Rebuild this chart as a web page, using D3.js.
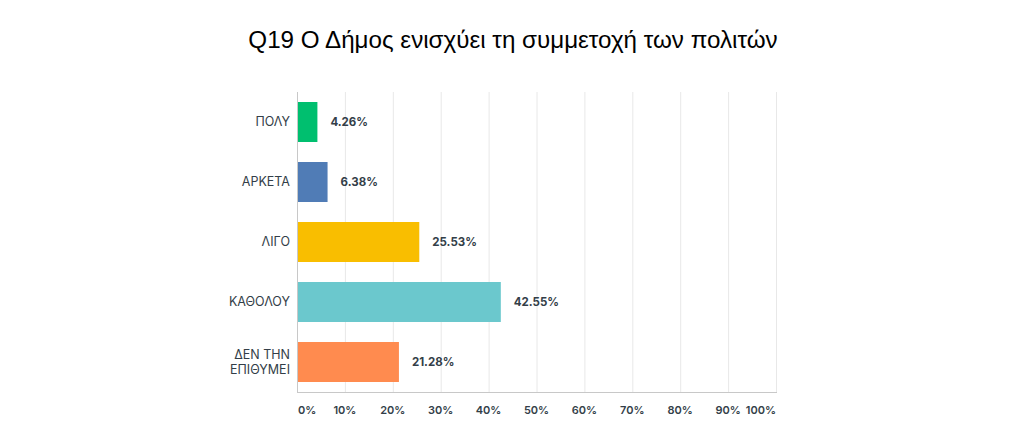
<!DOCTYPE html>
<html>
<head>
<meta charset="utf-8">
<script src="https://cdn.jsdelivr.net/npm/d3@7"></script>
<style>
  body { margin: 0; background: #fff; }
  svg { display: block; }
</style>
</head>
<body>
<div id="chart"></div>
<script>
// Q19 survey bar chart

const categories = ['ΠΟΛΥ', 'ΑΡΚΕΤΑ', 'ΛΙΓΟ', 'ΚΑΘΟΛΟΥ', 'ΔΕΝ ΤΗΝ ΕΠΙΘΥΜΕΙ'];
const labelLines = [['ΠΟΛΥ'], ['ΑΡΚΕΤΑ'], ['ΛΙΓΟ'], ['ΚΑΘΟΛΟΥ'], ['ΔΕΝ ΤΗΝ', 'ΕΠΙΘΥΜΕΙ']];
const values = [4.26, 6.38, 25.53, 42.55, 21.28];
const colors = ['#00bf6f', '#507cb6', '#f9be00', '#6bc8cd', '#ff8b4f'];
const ticks = [0, 10, 20, 30, 40, 50, 60, 70, 80, 90, 100];

const config = {
    width: 1024,
    height: 445,
    left: 297,
    right: 776,
    top: 92,
    bottom: 392
};

const svg = d3.select('#chart')
    .append('svg')
    .attr('width', config.width)
    .attr('height', config.height);

// Title
svg.append('text')
    .attr('x', 513)
    .attr('y', 48)
    .attr('text-anchor', 'middle')
    .attr('font-family', '"Liberation Sans", Arial, sans-serif')
    .attr('font-size', 24.2)
    .attr('fill', '#000')
    .text('Q19 Ο Δήμος ενισχύει τη συμμετοχή των πολιτών');

const x = d3.scaleLinear().domain([0, 100]).range([config.left, config.right]);
const y = d3.scaleBand().domain(categories).range([config.top, config.bottom]).paddingInner(1 / 3).paddingOuter(1 / 6);

// Gridlines
svg.append('g')
    .selectAll('line')
    .data(ticks.slice(1))
    .enter().append('line')
    .attr('x1', d => x(d) + 0.5)
    .attr('x2', d => x(d) + 0.5)
    .attr('y1', config.top)
    .attr('y2', config.bottom)
    .attr('stroke', '#e8e8e8')
    .attr('stroke-width', 1);

// Axis lines
svg.append('line')
    .attr('x1', config.left + 0.5).attr('x2', config.left + 0.5)
    .attr('y1', config.top).attr('y2', config.bottom)
    .attr('stroke', '#c8c8c8');
svg.append('line')
    .attr('x1', config.left).attr('x2', config.right + 1)
    .attr('y1', config.bottom + 0.5).attr('y2', config.bottom + 0.5)
    .attr('stroke', '#c8c8c8');

// Bars
svg.append('g')
    .selectAll('rect')
    .data(categories)
    .enter().append('rect')
    .attr('x', config.left + 1)
    .attr('y', d => y(d))
    .attr('width', (d, i) => x(values[i]) - config.left - 1)
    .attr('height', y.bandwidth())
    .attr('fill', (d, i) => colors[i]);

// Value labels
svg.append('g')
    .selectAll('text')
    .data(categories)
    .enter().append('text')
    .attr('x', (d, i) => x(values[i]) + 13)
    .attr('y', d => y(d) + y.bandwidth() / 2)
    .attr('dy', '0.35em')
    .attr('font-family', 'Inter, "Noto Sans", sans-serif')
    .attr('font-size', 11.5)
    .attr('font-weight', 'bold')
    .attr('fill', '#333e48')
    .text((d, i) => values[i].toFixed(2) + '%');

// Category labels
const catGroups = svg.append('g')
    .selectAll('text')
    .data(categories)
    .enter().append('text')
    .attr('text-anchor', 'end')
    .attr('font-family', 'Inter, "Noto Sans", sans-serif')
    .attr('font-size', 12.5)
    .attr('fill', '#333e48');

catGroups.each(function(d, i) {
    const lines = labelLines[i];
    const cy = y(d) + y.bandwidth() / 2;
    const lh = 15;
    const start = cy - (lines.length - 1) * lh / 2;
    d3.select(this).selectAll('tspan')
        .data(lines)
        .enter().append('tspan')
        .attr('x', config.left - 7)
        .attr('y', (l, j) => start + j * lh)
        .attr('dy', '0.35em')
        .text(l => l);
});

// Tick labels
svg.append('g')
    .selectAll('text')
    .data(ticks)
    .enter().append('text')
    .attr('x', d => d === 0 ? x(d) + 1 : x(d))
    .attr('y', 414)
    .attr('text-anchor', d => d === 0 ? 'start' : (d === 100 ? 'end' : 'middle'))
    .attr('font-family', 'Inter, "Noto Sans", sans-serif')
    .attr('font-size', 11)
    .attr('font-weight', 600)
    .attr('fill', '#333e48')
    .text(d => d + '%');
</script>
</body>
</html>
